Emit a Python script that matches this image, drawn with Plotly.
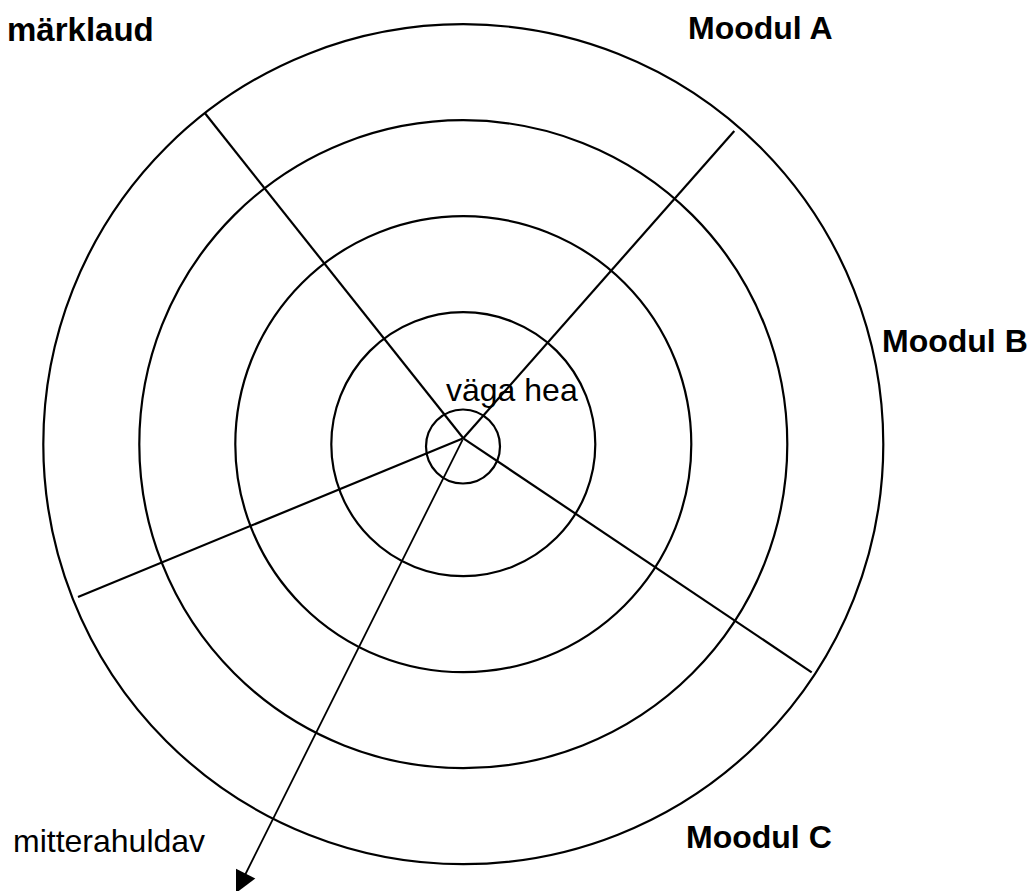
import plotly.graph_objects as go

# ---- data ----
center_x = 463.3
center_y = 444.2
ring_radii = [132, 228, 324, 420]
inner_circle = {"cx": 463.0, "cy": 446.5, "r": 37}

hub_x = 463.3
hub_y = 438.3
spoke_end_x = [205, 734.3, 811.7, 78]
spoke_end_y = [113.3, 131, 672.3, 597]
arrow_tip_x = 236
arrow_tip_y = 893

label_text = ["Moodul A", "Moodul B", "Moodul C", "väga hea", "mitterahuldav", "märklaud"]
label_x = [760, 955, 759, 512, 109, 156]
label_y = [28, 341, 837, 390, 841, 29]
label_size = [32, 32, 32, 32, 32, 33]
label_bold = [True, True, True, False, False, True]
label_anchor = ["center", "center", "center", "center", "center", "right"]

W, H = 1033, 891
fig = go.Figure()

# rings
for r in ring_radii:
    fig.add_shape(type="circle", xref="x", yref="y",
                  x0=center_x - r, x1=center_x + r, y0=center_y - r, y1=center_y + r,
                  line=dict(color="black", width=2.2))
fig.add_shape(type="circle", xref="x", yref="y",
              x0=inner_circle["cx"] - inner_circle["r"], x1=inner_circle["cx"] + inner_circle["r"],
              y0=inner_circle["cy"] - inner_circle["r"], y1=inner_circle["cy"] + inner_circle["r"],
              line=dict(color="black", width=2.2))

# spokes
for ex, ey in zip(spoke_end_x, spoke_end_y):
    fig.add_trace(go.Scatter(x=[hub_x, ex], y=[hub_y, ey], mode="lines",
                             line=dict(color="black", width=2.2),
                             hoverinfo="skip", showlegend=False))

# arrow
fig.add_annotation(x=arrow_tip_x, y=arrow_tip_y, ax=hub_x, ay=hub_y,
                   xref="x", yref="y", axref="x", ayref="y",
                   showarrow=True, arrowhead=2, arrowsize=2.4, arrowwidth=1.8,
                   arrowcolor="black", text="")

# labels
for t, x, y, s, b, a in zip(label_text, label_x, label_y, label_size, label_bold, label_anchor):
    fig.add_annotation(x=x, y=y, xref="x", yref="y", text=f"<b>{t}</b>" if b else t,
                       showarrow=False, xanchor=a, yanchor="middle",
                       font=dict(family="Liberation Sans, Arial, sans-serif", size=s, color="black"))

fig.update_xaxes(range=[0, W], visible=False, fixedrange=True)
fig.update_yaxes(range=[H, 0], visible=False, fixedrange=True)
fig.update_layout(width=W, height=H, autosize=False,
                  margin=dict(l=0, r=0, t=0, b=0),
                  paper_bgcolor="white", plot_bgcolor="white", showlegend=False)

fig.write_html("out.html", config={"displayModeBar": False},
               post_script="document.body.style.margin='0px';document.body.style.overflow='hidden';")
